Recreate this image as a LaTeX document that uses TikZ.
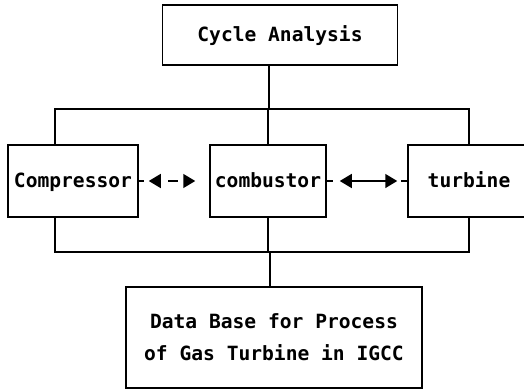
\documentclass[tikz,border=0pt]{standalone}
\usepackage{fontspec}
\setmonofont{DejaVu Sans Mono}
\usetikzlibrary{arrows.meta}
\begin{document}
\begin{tikzpicture}[x=1pt,y=-1pt,line width=1.5pt,font=\ttfamily\bfseries\fontsize{19.6}{32}\selectfont]
	\clip (0,0) rectangle (524,391);
	\begin{scope}[>={Triangle[length=12pt,width=14pt]}]
		\tikzstyle{every node}=[draw,rectangle,line width=1.5pt,inner sep=0pt,align=center,text height=16pt,text depth=4pt];
		\path (280,35 ) node[minimum width=235pt,minimum height=60pt] (cyc)  {Cycle Analysis};
		\path (73 ,181) node[minimum width=130pt,minimum height=72pt] (comp) {Compressor};
		\path (268,181) node[minimum width=116pt,minimum height=72pt] (comb) {combustor};
		\path (469,181) node[minimum width=122pt,minimum height=72pt] (turb) {turbine};
		\path (274,337.5) node[minimum width=296pt,minimum height=101pt,text height=,text depth=] (data) {Data Base for Process\\of Gas Turbine in IGCC};
		\coordinate (jt) at (269,109);
		\coordinate (jb) at (270,252);
		% buses
		\draw (jt |- cyc.south) -- (jt);
		\draw ([xshift=-18pt]comp.north) |- (jt) -| (turb.north);
		\draw (comb.north) -- (comb.north |- jt);
		\draw ([xshift=-18pt]comp.south) |- (jb) -| (turb.south);
		\draw (comb.south) -- (comb.south |- jb);
		\draw (jb) -- (jb |- data.north);
		% arrows
		\draw (comp.east) -- ++(5,0);
		\draw[<->,dash pattern=on 0pt off 8pt on 10pt off 10pt] ([xshift=10pt]comp.east) -- ([xshift=-14pt]comb.west);
		\draw (comb.east) -- ++(6,0);
		\draw (turb.west) -- ++(-6,0);
		\draw[<->] ([xshift=13pt]comb.east) -- ([xshift=-10pt]turb.west);
	\end{scope}
\end{tikzpicture}
\end{document}
